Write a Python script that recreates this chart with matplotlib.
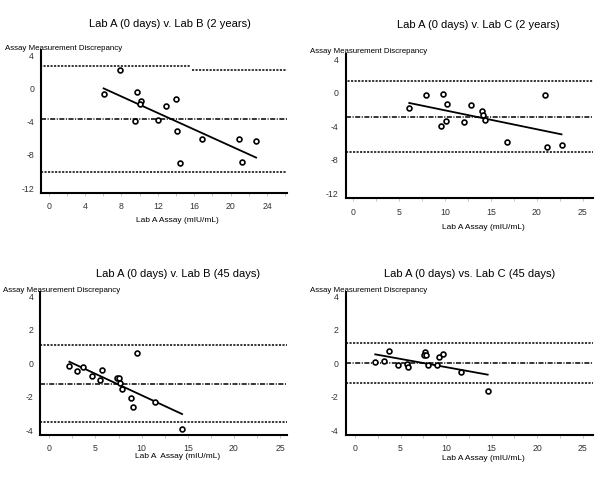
import matplotlib
matplotlib.use("Agg")
import matplotlib.pyplot as plt
from matplotlib.ticker import MultipleLocator

plt.rcParams["font.family"] = ["Liberation Sans", "DejaVu Sans"]
plt.rcParams["axes.unicode_minus"] = False

W, H = 600, 485

# ---- panel 1: Lab A (0 days) v. Lab B (2 years)
p1_x = [6.05, 7.85, 9.76, 9.54, 10.17, 10.06, 12.07, 12.88, 13.98, 14.09, 14.39, 16.8, 20.92, 21.25, 22.83]
p1_y = [-0.84, 2.04, -0.52, -4.08, -1.64, -2.0, -3.88, -2.24, -1.44, -5.2, -9.04, -6.24, -6.24, -8.92, -6.4]
p1_upper = [(-1, 15.56, 2.6), (15.7, 27, 2.1)]
p1_mean = -3.8
p1_lower = -10.2
p1_fit_x = [6.04, 22.8]
p1_fit_y = [-0.12, -8.44]

# ---- panel 2: Lab A (0 days) v. Lab C (2 years)
p2_x = [6.1, 7.89, 9.81, 10.17, 9.56, 10.07, 12.06, 12.86, 14.0, 14.1, 14.33, 16.79, 20.86, 21.11, 22.71]
p2_y = [-1.99, -0.44, -0.24, -1.43, -4.1, -3.5, -3.59, -1.59, -2.34, -2.78, -3.35, -5.98, -0.44, -6.57, -6.37]
p2_upper = [(-1, 27, 1.24)]
p2_mean = -2.99
p2_lower = -7.21
p2_fit_x = [6.1, 22.7]
p2_fit_y = [-1.35, -5.1]

# ---- panel 3: Lab A (0 days) v. Lab B (45 days)
p3_x = [2.17, 3.03, 3.68, 4.66, 5.74, 5.53, 7.37, 7.55, 7.62, 7.88, 8.82, 9.1, 9.47, 11.45, 14.38]
p3_y = [-0.24, -0.52, -0.28, -0.81, -0.44, -1.07, -0.91, -0.91, -1.23, -1.59, -2.14, -2.64, 0.56, -2.36, -3.98]
p3_upper = [(-1, 27, 1.03)]
p3_mean = -1.27
p3_lower = -3.55
p3_fit_x = [2.17, 14.38]
p3_fit_y = [0.04, -3.08]

# ---- panel 4: Lab A (0 days) vs. Lab C (45 days)
p4_x = [2.23, 3.15, 3.73, 4.76, 5.67, 5.86, 7.65, 7.6, 7.76, 8.05, 8.97, 9.26, 9.7, 11.68, 14.64]
p4_y = [0.0, 0.06, 0.71, -0.18, -0.12, -0.3, 0.63, 0.42, 0.42, -0.16, -0.14, 0.3, 0.51, -0.59, -1.7]
p4_upper = [(-1, 27, 1.17)]
p4_mean = -0.04
p4_lower = -1.23
p4_fit_x = [2.23, 14.57]
p4_fit_y = [0.48, -0.73]

panels = [
    dict(x=p1_x, y=p1_y, upper=p1_upper, mean=p1_mean, lower=p1_lower, fx=p1_fit_x, fy=p1_fit_y,
         title="Lab A (0 days) v. Lab B (2 years)", xlabel="Lab A Assay (mIU/mL)",
         box=(41, 51, 287, 194), xlim=(-0.85, 26.2), ylim=(-12.7, 4.5), xstep=4, ystep=4,
         title_xy=(170, 24), ylab_xy=(5, 48), xlab_xy=(177, 221)),
    dict(x=p2_x, y=p2_y, upper=p2_upper, mean=p2_mean, lower=p2_lower, fx=p2_fit_x, fy=p2_fit_y,
         title="Lab A (0 days) v. Lab C (2 years)", xlabel="Lab A Assay (mIU/mL)",
         box=(345.7, 55, 592.7, 199.3), xlim=(-0.83, 26.1), ylim=(-12.74, 4.5), xstep=5, ystep=4,
         title_xy=(478, 25), ylab_xy=(310, 52), xlab_xy=(483, 228)),
    dict(x=p3_x, y=p3_y, upper=p3_upper, mean=p3_mean, lower=p3_lower, fx=p3_fit_x, fy=p3_fit_y,
         title="Lab A (0 days) v. Lab B (45 days)", xlabel="Lab A  Assay (mIU/mL)",
         box=(40.3, 293, 287, 436), xlim=(-0.98, 25.75), ylim=(-4.33, 4.2), xstep=5, ystep=2,
         title_xy=(178, 274), ylab_xy=(3, 290), xlab_xy=(178, 457)),
    dict(x=p4_x, y=p4_y, upper=p4_upper, mean=p4_mean, lower=p4_lower, fx=p4_fit_x, fy=p4_fit_y,
         title="Lab A (0 days) vs. Lab C (45 days)", xlabel="Lab A Assay (mIU/mL)",
         box=(345.7, 293, 592.7, 436), xlim=(-1.02, 26.1), ylim=(-4.33, 4.2), xstep=5, ystep=2,
         title_xy=(470, 274), ylab_xy=(310, 290), xlab_xy=(483, 459)),
]

fig = plt.figure(figsize=(W / 100, H / 100), dpi=100)

for p in panels:
    l, t, r, b = p["box"]
    ax = fig.add_axes([l / W, 1 - b / H, (r - l) / W, (b - t) / H])

    for x0, x1, yv in p["upper"]:
        ax.hlines(yv, x0, x1, colors="black", linewidth=1.1, linestyles=(0, (1.4, 0.9)))
    ax.axhline(p["mean"], color="black", linewidth=1.1, linestyle=(0, (3.3, 1.0, 0.7, 1.0)))
    ax.axhline(p["lower"], color="black", linewidth=1.1, linestyle=(0, (1.4, 0.9)))
    ax.plot(p["fx"], p["fy"], color="black", linewidth=1.3)
    ax.plot(p["x"], p["y"], linestyle="none", marker="o", markersize=3.5,
            markerfacecolor="white", markeredgecolor="black", markeredgewidth=1.2)

    for side in ("top", "right"):
        ax.spines[side].set_visible(False)
    for side in ("left", "bottom"):
        ax.spines[side].set_linewidth(1.5)

    ax.xaxis.set_major_locator(MultipleLocator(p["xstep"]))
    ax.xaxis.set_minor_locator(MultipleLocator(p["xstep"] / 2))
    ax.yaxis.set_major_locator(MultipleLocator(p["ystep"]))
    ax.tick_params(axis="x", which="both", direction="out", length=2, width=0.6,
                   color="#bbbbbb", labelsize=6.3, labelcolor="#333333", pad=4)
    ax.tick_params(axis="y", which="both", length=0, labelsize=6.3, labelcolor="#333333", pad=5)
    ax.set_xlim(*p["xlim"])
    ax.set_ylim(*p["ylim"])

    tx, ty = p["title_xy"]
    fig.text(tx / W, 1 - ty / H, p["title"], ha="center", va="center", fontsize=8)
    yx, yy = p["ylab_xy"]
    fig.text(yx / W, 1 - yy / H, "Assay Measurement Discrepancy", ha="left", va="center", fontsize=5.7)
    lx, ly = p["xlab_xy"]
    fig.text(lx / W, 1 - ly / H, p["xlabel"], ha="center", va="center", fontsize=6)

fig.savefig("out.png", dpi=100)
